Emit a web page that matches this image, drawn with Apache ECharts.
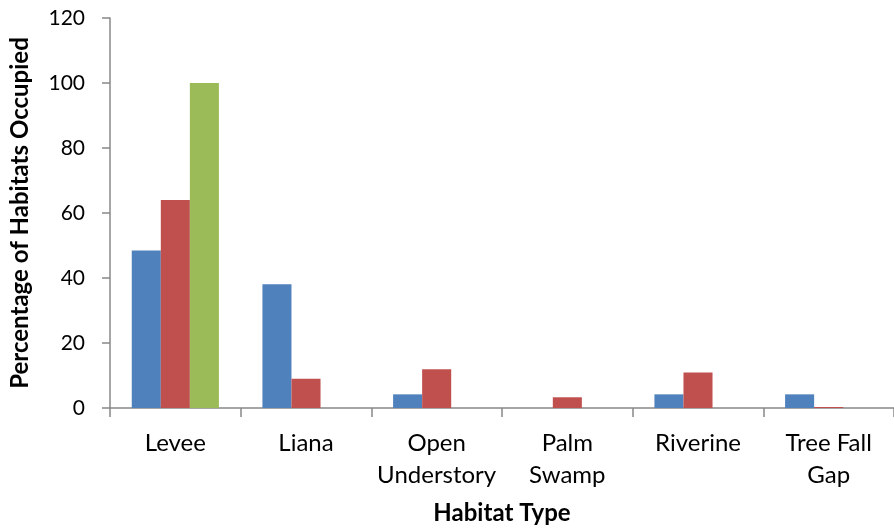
<!DOCTYPE html>
<html>
<head>
<meta charset="utf-8">
<script src="https://cdn.jsdelivr.net/npm/echarts@6/dist/echarts.min.js"></script>
<style>
  html, body { margin: 0; padding: 0; background: #fff; }
  #chart { width: 894px; height: 531px; }
</style>
</head>
<body>
<div id="chart"></div>
<script>
// Habitat categories (line breaks as shown under the axis)
const categories = ['Levee', 'Liana', 'Open\nUnderstory', 'Palm\nSwamp', 'Riverine', 'Tree Fall\nGap'];
// Percentage of habitats occupied, per group
const seriesA = [48.5, 38.1, 4.2, 0, 4.2, 4.2];
const seriesB = [64, 9, 11.9, 3.3, 10.9, 0.3];
const seriesC = [100, 0, 0, 0, 0, 0];
const yTicks = { min: 0, max: 120, interval: 20 };

const font = 'Lato, "Open Sans", sans-serif';
const axisGray = '#888888';

const chart = echarts.init(document.getElementById('chart'), null, { renderer: 'canvas' });

function bar(name, data, color) {
  return {
    name, type: 'bar', data,
    barGap: '0%', barCategoryGap: '33.3%',
    itemStyle: { color },
    emphasis: { disabled: true }
  };
}

chart.setOption({
  animation: false,
  backgroundColor: '#ffffff',
  grid: { left: 109, top: 18, bottom: 123, right: -8, containLabel: false },
  xAxis: {
    type: 'category',
    data: categories,
    name: 'Habitat Type',
    nameLocation: 'middle',
    nameGap: 93,
    nameTextStyle: { fontFamily: font, fontWeight: 'bold', fontSize: 24, color: '#000', verticalAlign: 'top' },
    axisLine: { lineStyle: { color: axisGray, width: 1.5 } },
    axisTick: { show: true, length: 9, alignWithLabel: false, lineStyle: { color: axisGray, width: 1.5 } },
    axisLabel: { fontFamily: font, fontSize: 24, color: '#000', margin: 19, lineHeight: 32, interval: 0 }
  },
  yAxis: {
    type: 'value',
    min: yTicks.min, max: yTicks.max, interval: yTicks.interval,
    name: 'Percentage of Habitats Occupied',
    nameLocation: 'middle',
    nameGap: 78,
    nameTextStyle: { fontFamily: font, fontWeight: 'bold', fontSize: 24, color: '#000' },
    axisLine: { show: true, lineStyle: { color: axisGray, width: 1.5 } },
    axisTick: { show: true, length: 8, lineStyle: { color: axisGray, width: 1.5 } },
    axisLabel: { fontFamily: font, fontSize: 21, color: '#000', margin: 25 },
    splitLine: { show: false }
  },
  series: [
    bar('A', seriesA, '#4F81BD'),
    bar('B', seriesB, '#C0504D'),
    bar('C', seriesC, '#9BBB59')
  ]
});
</script>
</body>
</html>
